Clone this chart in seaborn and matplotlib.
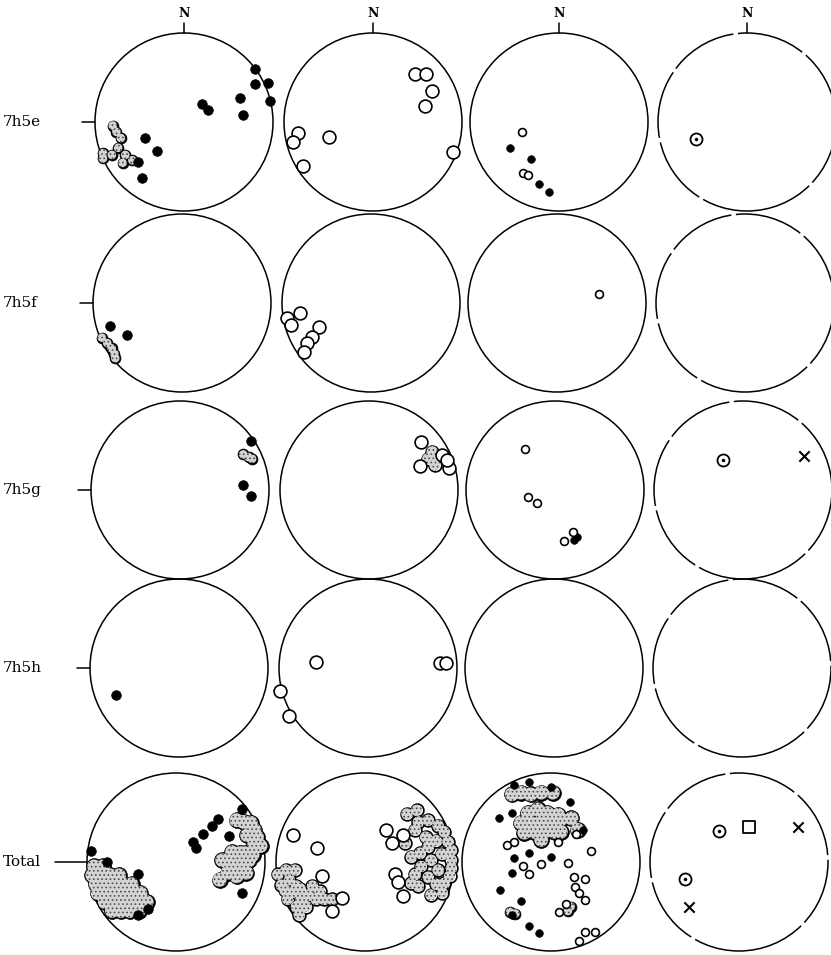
import matplotlib
matplotlib.use("Agg")
import matplotlib.pyplot as plt
from matplotlib.patches import Circle
import pandas as pd
import seaborn as sns

sns.set_theme(style="white")
plt.rcParams["font.family"] = ["DejaVu Serif"]
plt.rcParams["hatch.linewidth"] = 0.7

# ---------------------------------------------------------------- data
# Lower-hemisphere projections, unit-circle coordinates (x = east, y = north)
row_labels = ["7h5e", "7h5f", "7h5g", "7h5h", "Total"]

# 7h5e
e1_solid = [(0.80, 0.60), (0.80, 0.43), (0.94, 0.44), (0.97, 0.24), (0.63, 0.27),
            (0.66, 0.08), (0.20, 0.20), (0.27, 0.13), (-0.44, -0.18), (-0.30, -0.33),
            (-0.52, -0.45), (-0.47, -0.63)]
e1_cluster = [(-0.80, -0.04), (-0.76, -0.11), (-0.71, -0.18), (-0.91, -0.35),
              (-0.91, -0.41), (-0.81, -0.37), (-0.74, -0.29), (-0.66, -0.37),
              (-0.69, -0.46), (-0.58, -0.43)]
e2_open = [(0.47, 0.54), (0.60, 0.54), (0.66, 0.35), (0.58, 0.18), (0.90, -0.34),
           (-0.84, -0.12), (-0.90, -0.22), (-0.49, -0.17), (-0.79, -0.49)]
e3_small_solid = [(-0.55, -0.29), (-0.31, -0.42), (-0.22, -0.70), (-0.11, -0.79)]
e3_small_open = [(-0.42, -0.11), (-0.40, -0.57), (-0.35, -0.60)]
e4_bullseye = [(-0.57, -0.19)]

# 7h5f
f1_solid = [(-0.81, -0.26), (-0.62, -0.36)]
f1_cluster = [(-0.90, -0.39), (-0.84, -0.45), (-0.79, -0.51), (-0.76, -0.57),
              (-0.75, -0.62)]
f2_open = [(-0.80, -0.11), (-0.94, -0.17), (-0.90, -0.25), (-0.58, -0.27),
           (-0.66, -0.38), (-0.72, -0.45), (-0.75, -0.55)]
f3_small_open = [(0.47, 0.10)]

# 7h5g
g1_solid = [(0.80, 0.55), (0.71, 0.06), (0.80, -0.07)]
g1_cluster = [(0.71, 0.40), (0.77, 0.37), (0.81, 0.35)]
g2_open = [(0.58, 0.54), (0.57, 0.27), (0.90, 0.25), (0.82, 0.39), (0.88, 0.34)]
g2_cluster = [(0.74, 0.28), (0.71, 0.43), (0.74, 0.37), (0.66, 0.35)]
g3_small_open = [(-0.34, 0.46), (-0.30, -0.08), (-0.20, -0.15), (0.10, -0.57),
                 (0.20, -0.47)]
g3_small_solid = [(0.21, -0.56), (0.25, -0.53)]
g4_bullseye = [(-0.22, 0.34)]
g4_cross = [(0.69, 0.38)]

# 7h5h
h1_solid = [(-0.71, -0.30)]
h2_open = [(-0.58, 0.07), (0.81, 0.06), (0.88, 0.06), (-0.99, -0.26), (-0.89, -0.54)]

# Total
t1_solid = [(-0.96, 0.12), (0.74, -0.35), (0.19, 0.22), (0.23, 0.16), (0.30, 0.31),
            (0.40, 0.41), (0.47, 0.48), (0.60, 0.29), (0.74, 0.60), (-0.77, 0.00),
            (-0.43, -0.14), (-0.31, -0.53), (-0.43, -0.60)]
t1_blob = [(-0.92, -0.05), (-0.82, -0.05),
           (-0.94, -0.15), (-0.84, -0.15), (-0.74, -0.15), (-0.64, -0.15),
           (-0.90, -0.25), (-0.80, -0.25), (-0.70, -0.25), (-0.60, -0.25), (-0.50, -0.25),
           (-0.88, -0.35), (-0.78, -0.35), (-0.68, -0.35), (-0.58, -0.35),
           (-0.48, -0.35), (-0.40, -0.35),
           (-0.80, -0.45), (-0.70, -0.45), (-0.60, -0.45), (-0.50, -0.45),
           (-0.40, -0.45), (-0.33, -0.45),
           (-0.72, -0.55), (-0.62, -0.55), (-0.52, -0.55), (-0.42, -0.55),
           (0.68, 0.47), (0.76, 0.45), (0.84, 0.44), (0.88, 0.36), (0.91, 0.28),
           (0.95, 0.18), (0.88, 0.20), (0.86, 0.08), (0.80, 0.30),
           (0.52, 0.02), (0.63, 0.11), (0.72, 0.10), (0.77, 0.10), (0.71, -0.04),
           (0.62, -0.02), (0.58, -0.12), (0.49, -0.20), (0.79, -0.12),
           (0.68, -0.16), (0.82, 0.02)]
t2_open = [(-0.81, 0.30), (-0.54, 0.16), (0.24, 0.36), (0.43, -0.38), (0.30, 0.21),
           (0.43, 0.30), (-0.26, -0.41), (-0.37, -0.55), (-0.48, -0.16),
           (0.34, -0.14), (0.37, -0.22)]
t2_cluster = [(-0.98, -0.14), (-0.89, -0.09), (-0.79, -0.09), (-0.94, -0.26),
              (-0.87, -0.42), (-0.77, -0.50), (-0.74, -0.59), (-0.66, -0.50),
              (-0.59, -0.27), (-0.51, -0.33), (-0.55, -0.42), (-0.46, -0.42),
              (-0.37, -0.42), (-0.64, -0.37), (-0.85, -0.20), (-0.77, -0.27),
              (-0.81, -0.34), (-0.73, -0.30), (-0.72, -0.42), (-0.90, -0.32),
              (0.47, 0.54), (0.58, 0.58), (0.60, 0.45), (0.71, 0.47), (0.82, 0.41),
              (0.89, 0.34), (0.93, 0.23), (0.97, 0.13), (0.97, 0.02), (0.97, -0.07),
              (0.95, -0.16), (0.89, -0.24), (0.87, -0.35), (0.74, -0.37),
              (0.60, -0.27), (0.52, -0.24), (0.45, 0.21), (0.56, 0.36), (0.71, 0.17),
              (0.74, 0.02), (0.63, -0.05), (0.82, -0.09), (0.80, 0.24), (0.68, 0.28),
              (0.86, 0.09), (0.71, -0.17), (0.56, -0.14), (0.52, 0.06), (0.62, 0.10),
              (0.80, -0.25)]
t3_small_solid = [(-0.42, 0.86), (-0.25, 0.90), (0.00, 0.84), (0.21, 0.67),
                  (-0.58, 0.49), (-0.44, 0.55), (-0.25, 0.10), (-0.42, 0.04),
                  (-0.44, -0.12), (-0.57, -0.31), (-0.34, -0.44), (-0.44, -0.60),
                  (-0.25, -0.72), (-0.13, -0.80), (0.00, 0.06), (0.36, 0.36)]
t3_blob = [(-0.44, 0.76), (-0.34, 0.78), (-0.23, 0.76), (-0.11, 0.78), (0.02, 0.78),
           (-0.26, 0.55), (-0.15, 0.59), (-0.04, 0.55), (0.08, 0.53),
           (-0.34, 0.44), (-0.23, 0.44), (-0.11, 0.46), (0.00, 0.44), (0.11, 0.48),
           (0.23, 0.49), (-0.30, 0.33), (-0.19, 0.34), (-0.08, 0.33), (0.04, 0.34),
           (-0.11, 0.25), (0.11, 0.34), (0.30, 0.36)]
t3_cluster = [(-0.40, -0.58), (-0.46, -0.56), (0.19, -0.55), (0.22, -0.50)]
t3_small_open = [(-0.49, 0.19), (-0.42, 0.23), (-0.11, -0.02), (-0.25, -0.13),
                 (-0.32, -0.05), (0.19, -0.01), (0.45, 0.12), (0.26, -0.17),
                 (0.38, -0.19), (0.27, -0.28), (0.32, -0.35), (0.38, -0.43),
                 (0.09, -0.56), (0.17, -0.47), (0.38, -0.79), (0.49, -0.79),
                 (0.32, -0.89), (0.08, 0.23), (0.28, 0.31)]
t4_bullseye = [(-0.22, 0.35), (-0.61, -0.19)]
t4_square = [(0.11, 0.39)]
t4_cross = [(0.66, 0.39), (-0.56, -0.51)]

panels = {
    (0, 0): {"solid": e1_solid, "solid_cluster": e1_cluster},
    (0, 1): {"open": e2_open},
    (0, 2): {"small_solid": e3_small_solid, "small_open": e3_small_open},
    (0, 3): {"bullseye": e4_bullseye},
    (1, 0): {"solid": f1_solid, "solid_cluster": f1_cluster},
    (1, 1): {"open": f2_open},
    (1, 2): {"small_open": f3_small_open},
    (2, 0): {"solid": g1_solid, "solid_cluster": g1_cluster},
    (2, 1): {"open": g2_open, "open_cluster": g2_cluster},
    (2, 2): {"small_open": g3_small_open, "small_solid": g3_small_solid},
    (2, 3): {"bullseye": g4_bullseye, "cross": g4_cross},
    (3, 0): {"solid": h1_solid},
    (3, 1): {"open": h2_open},
    (4, 0): {"solid": t1_solid, "blob": t1_blob},
    (4, 1): {"open": t2_open, "open_cluster": t2_cluster},
    (4, 2): {"small_solid": t3_small_solid, "blob": t3_blob,
             "solid_cluster": t3_cluster, "small_open": t3_small_open},
    (4, 3): {"bullseye": t4_bullseye, "square": t4_square, "cross": t4_cross},
}

records = []
for (r, c), kinds in panels.items():
    for kind, pts in kinds.items():
        for x, y in pts:
            records.append({"row": r, "col": c, "kind": kind, "x": x, "y": y})
df = pd.DataFrame(records)

# ---------------------------------------------------------------- layout
W, H = 831, 955
R = 89
col_x = [181, 370, 556, 744]
row_dx = [3, 1, -1, -2, -5]
row_y = [122, 303, 490, 668, 862]

fig = plt.figure(figsize=(W / 100, H / 100), dpi=100)
fig.patch.set_facecolor("white")

STIPPLE = dict(color="#d4d4d4", edgecolor="#4a4a4a", linewidth=0, hatch="....")


def draw_kind(ax, sub, kind):
    if sub.empty:
        return
    common = dict(data=sub, x="x", y="y", ax=ax, legend=False, clip_on=False)
    if kind == "solid":
        sns.scatterplot(**common, marker="o", s=48, color="black",
                        edgecolor="black", linewidth=0.5, zorder=4)
    elif kind == "small_solid":
        sns.scatterplot(**common, marker="o", s=30, color="black",
                        edgecolor="black", linewidth=0.5, zorder=4)
    elif kind == "solid_cluster":
        sns.scatterplot(**common, marker="o", s=62, color="black",
                        edgecolor="black", linewidth=0.5, zorder=3)
        sns.scatterplot(**common, marker="o", s=38, zorder=3.5, **STIPPLE)
    elif kind == "blob":
        sns.scatterplot(**common, marker="o", s=130, color="black",
                        edgecolor="black", linewidth=0.5, zorder=3)
        sns.scatterplot(**common, marker="o", s=100, zorder=3.5, **STIPPLE)
    elif kind == "open":
        sns.scatterplot(**common, marker="o", s=85, color="white",
                        edgecolor="black", linewidth=1.2, zorder=4)
    elif kind == "open_cluster":
        sns.scatterplot(**common, marker="o", s=85, color="white",
                        edgecolor="black", linewidth=1.2, zorder=3)
        sns.scatterplot(**common, marker="o", s=66, zorder=3.5, **STIPPLE)
    elif kind == "small_open":
        sns.scatterplot(**common, marker="o", s=32, color="white",
                        edgecolor="black", linewidth=1.2, zorder=4)
    elif kind == "bullseye":
        sns.scatterplot(**common, marker="o", s=75, color="white",
                        edgecolor="black", linewidth=1.3, zorder=4)
        sns.scatterplot(**common, marker="o", s=5, color="black",
                        edgecolor="black", linewidth=0.3, zorder=5)
    elif kind == "square":
        sns.scatterplot(**common, marker="s", s=70, color="white",
                        edgecolor="black", linewidth=1.3, zorder=4)
    elif kind == "cross":
        sns.scatterplot(**common, marker="x", s=55, color="black",
                        linewidth=1.5, zorder=4)


draw_order = ["blob", "solid_cluster", "open_cluster", "solid", "small_solid", "open",
              "small_open", "bullseye", "square", "cross"]

for r in range(len(row_labels)):
    for c in range(4):
        cx = col_x[c] + row_dx[r]
        cy = row_y[r]
        ax = fig.add_axes([(cx - R) / W, 1 - (cy + R) / H, 2 * R / W, 2 * R / H])
        ax.set_xlim(-1, 1)
        ax.set_ylim(-1, 1)
        ax.set_axis_off()

        ls = (0, (45, 3)) if c == 3 else "-"
        ax.add_patch(Circle((0, 0), 1, fill=False, edgecolor="black",
                            linewidth=1.1, linestyle=ls, clip_on=False, zorder=2))

        panel = df[(df["row"] == r) & (df["col"] == c)]
        for kind in draw_order:
            draw_kind(ax, panel[panel["kind"] == kind], kind)

        if r == 0:
            ax.plot([0, 0], [1.0, 1.11], color="black", lw=1.1, clip_on=False)
            ax.text(0, 1.15, "N", ha="center", va="bottom", fontsize=9,
                    fontweight="bold", color="black")
        if c == 0:
            x0 = -1.36 if row_labels[r] == "Total" else -1.15
            ax.plot([x0, -1.0], [0, 0], color="black", lw=1.1, clip_on=False)

for r, label in enumerate(row_labels):
    fig.text(3 / W, 1 - row_y[r] / H, label, ha="left", va="center",
             fontsize=11, color="black")

fig.savefig("out.png", dpi=100, facecolor="white")
